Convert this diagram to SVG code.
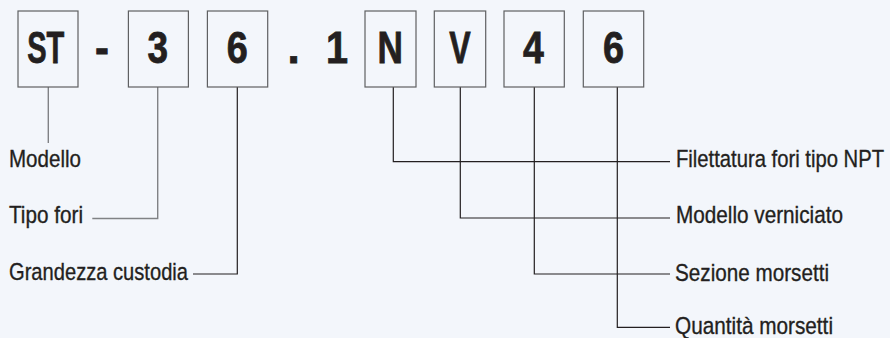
<svg xmlns="http://www.w3.org/2000/svg" width="890" height="338" viewBox="0 0 890 338">
  <style>
    .bg { fill: #f3f6fb; }
    .box { fill: none; stroke: #5f6062; stroke-width: 1.2; }
    .big { font-family: "Liberation Sans", Arial, sans-serif; font-weight: bold; font-size: 44px; fill: #231f20; stroke: #231f20; stroke-width: 0.8; text-anchor: middle; }
    .lbl { font-family: "Liberation Sans", Arial, sans-serif; font-size: 24.5px; fill: #231f20; stroke: #231f20; stroke-width: 0.35; }
    .ln { fill: none; stroke: #231f20; stroke-width: 1.2; }
    .lng { fill: none; stroke: #808285; stroke-width: 1.4; }
  </style>
  <rect class="bg" x="0" y="0" width="890" height="338"/>

  <g id="connectors">
    <path class="lng" d="M48.3 87 V143"/>
    <path class="lng" d="M157.7 87 V218.5 H92.3"/>
    <path class="ln" d="M237.3 87 V274 H193"/>
    <path class="ln" d="M393.3 87 V161.7 H670"/>
    <path class="ln" d="M460.3 87 V218 H670"/>
    <path class="ln" d="M534.3 87 V274 H670"/>
    <path class="ln" d="M617.3 87 V327.3 H670"/>
  </g>

  <g id="node-ST">
    <rect class="box" x="18" y="11" width="60" height="76"/>
    <text class="big" transform="translate(45.8 63.3) scale(0.66 1)">ST</text>
  </g>
  <g id="sep-dash">
    <text class="big" transform="translate(102 63.3) scale(0.95 1)">-</text>
  </g>
  <g id="node-3">
    <rect class="box" x="128.4" y="11" width="60" height="76"/>
    <text class="big" transform="translate(157.8 63.3) scale(0.84 1)">3</text>
  </g>
  <g id="node-6a">
    <rect class="box" x="207.4" y="11" width="60.3" height="76"/>
    <text class="big" transform="translate(237.3 63.3) scale(0.86 1)">6</text>
  </g>
  <g id="sep-dot">
    <text class="big" transform="translate(293.7 63.3)">.</text>
  </g>
  <g id="node-1">
    <text class="big" transform="translate(337 63.3) scale(0.9 1)">1</text>
  </g>
  <g id="node-N">
    <rect class="box" x="365" y="11" width="51" height="76"/>
    <text class="big" transform="translate(390.3 63.3) scale(0.8 1)">N</text>
  </g>
  <g id="node-V">
    <rect class="box" x="434.3" y="11" width="51.4" height="76"/>
    <text class="big" transform="translate(460 63.3) scale(0.73 1)">V</text>
  </g>
  <g id="node-4">
    <rect class="box" x="504" y="11" width="60.3" height="76"/>
    <text class="big" transform="translate(533.5 63.3) scale(0.85 1)">4</text>
  </g>
  <g id="node-6b">
    <rect class="box" x="583.3" y="11" width="60.4" height="76"/>
    <text class="big" transform="translate(613.5 63.3) scale(0.86 1)">6</text>
  </g>

  <g id="label-modello">
    <text class="lbl" x="9" y="166.8" textLength="72" lengthAdjust="spacingAndGlyphs">Modello</text>
  </g>
  <g id="label-tipo-fori">
    <text class="lbl" x="9" y="222.7" textLength="74" lengthAdjust="spacingAndGlyphs">Tipo fori</text>
  </g>
  <g id="label-grandezza">
    <text class="lbl" x="9" y="280" textLength="179" lengthAdjust="spacingAndGlyphs">Grandezza custodia</text>
  </g>
  <g id="label-filettatura">
    <text class="lbl" x="676" y="166.7" textLength="208" lengthAdjust="spacingAndGlyphs">Filettatura fori tipo NPT</text>
  </g>
  <g id="label-verniciato">
    <text class="lbl" x="676" y="222.7" textLength="167" lengthAdjust="spacingAndGlyphs">Modello verniciato</text>
  </g>
  <g id="label-sezione">
    <text class="lbl" x="675" y="280.7" textLength="154" lengthAdjust="spacingAndGlyphs">Sezione morsetti</text>
  </g>
  <g id="label-quantita">
    <text class="lbl" x="675" y="334" textLength="158" lengthAdjust="spacingAndGlyphs">Quantità morsetti</text>
  </g>
</svg>
